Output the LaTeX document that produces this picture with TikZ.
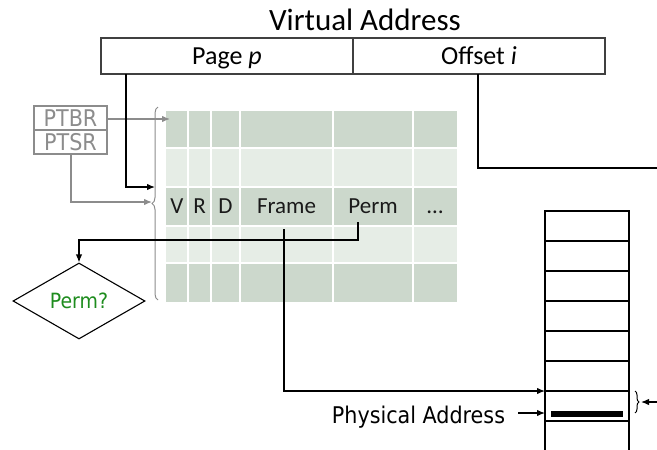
\documentclass[tikz,border=0pt]{standalone}
\usepackage{fontspec}
\setmainfont{Carlito}
\newfontfamily\tahfont{DejaVu Sans Condensed}
\usetikzlibrary{arrows.meta,shapes.geometric,decorations.pathreplacing}
\definecolor{rowdark}{HTML}{CCD8CC}
\definecolor{rowlight}{HTML}{E6EDE6}
\definecolor{regtext}{HTML}{8C8C8C}
\definecolor{permgreen}{RGB}{30,140,30}
\definecolor{inkdark}{HTML}{1A1A1A}
\begin{document}
\begin{tikzpicture}[x=1pt,y=-1pt,
  fieldbox/.style={draw=black!75, line width=1.4pt, minimum width=252pt,
    minimum height=36pt, inner sep=0pt, text height=17pt, text depth=0pt,
    font=\fontsize{26}{30}\selectfont},
  regbox/.style={draw=regtext, line width=1.1pt, minimum width=73pt,
    minimum height=24pt, inner sep=0pt, text=regtext, text height=17pt,
    text depth=0pt, font=\tahfont\fontsize{23}{26}\selectfont},
  cellfont/.style={anchor=base, inner sep=0pt, text=inkdark,
    font=\fontsize{23}{27}\selectfont},
  conn/.style={line width=1.3pt, black},
  arr/.style={conn, -{Latex[length=8pt,width=6.5pt]}},
  grayarr/.style={line width=1.3pt, regtext, -{Latex[length=8pt,width=6.5pt]}},
  memline/.style={line width=1.2pt, black},
  gridline/.style={white, line width=1.8pt}]
\useasboundingbox (0,0) rectangle (657,450);

% virtual address fields
\node[anchor=base, inner sep=0pt, font=\fontsize{31}{36}\selectfont] (title) at (365,30) {Virtual Address};
\node[fieldbox] (page) at (227,56) {Page \textit{p}};
\node[fieldbox] (offset) at (479,56) {Offset \textit{i}};

% page table base / size registers
\node[regbox] (ptbr) at (70.5,118) {PTBR};
\node[regbox] (ptsr) at (70.5,142) {PTSR};

% page table
\fill[rowdark]  (166,111) rectangle (457,148);
\fill[rowlight] (166,148) rectangle (457,187);
\fill[rowdark]  (166,187) rectangle (457,226);
\fill[rowlight] (166,226) rectangle (457,263);
\fill[rowdark]  (166,263) rectangle (457,302);
\foreach \x in {188,211,240,333,413} \draw[gridline] (\x,111) -- (\x,302);
\foreach \y in {148,187,226,263} \draw[gridline] (166,\y) -- (457,\y);

\node[cellfont] (fv) at (177,213) {V};
\node[cellfont] (fr) at (199.5,213) {R};
\node[cellfont] (fd) at (225.5,213) {D};
\node[cellfont] (fframe) at (286.5,213) {Frame};
\node[cellfont] (fperm) at (373,213) {Perm};
\node[cellfont] (fmore) at (435,213) {…};

% brace spanning the table
\draw[regtext, line width=1pt, decorate, decoration={brace, amplitude=6pt}]
  (158,300) -- (158,107);

% permission check
\node[draw, line width=1.1pt, diamond, aspect=1.74, minimum width=132pt,
  minimum height=76pt, inner sep=0pt, text=permgreen,
  font=\tahfont\fontsize{21}{24}\selectfont] (check) at (79,301) {Perm?};

% physical memory frames
\draw[memline] (545,452) -- (545,211) -- (629,211) -- (629,452);
\foreach \y in {241,271,301,331,361,391,421} \draw[memline] (545,\y) -- (629,\y);
\fill[black] (551,411) rectangle (623,417);
\draw[line width=1pt, decorate, decoration={brace, amplitude=4pt}]
  (635,391) -- (635,413);

\node[anchor=base, inner sep=0pt, font=\tahfont\fontsize{23}{26}\selectfont] (phys) at (418.5,423.5) {Physical Address};

% anchor points for connectors
\coordinate (pagedown) at (126,74);
\coordinate (pageentry) at (155,187);
\coordinate (ptsrdown) at (71,154);
\coordinate (sizeentry) at (152,202);
\coordinate (baseentry) at (170,119);
\coordinate (permout) at (358,222);
\coordinate (frameout) at (284,229);
\coordinate (frameslot) at (545,391);
\coordinate (physslot) at (545,413);
\coordinate (physout) at (518,413);
\coordinate (offdown) at (478,74);
\coordinate (offright) at (658,168);
\coordinate (offin) at (658,402);
\coordinate (offtip) at (641,402);

% connectors
\draw[grayarr] (ptbr.east |- baseentry) -- (baseentry);
\draw[grayarr] (ptsrdown) |- (sizeentry);
\draw[arr] (pagedown) |- (pageentry);
\draw[arr] (permout) -- (permout |- 0,240) -| (check.north);
\draw[arr] (frameout) |- (frameslot);
\draw[conn] (offdown) |- (offright);
\draw[arr] (physout) -- (physslot);
\draw[arr] (offin) -- (offtip);
\end{tikzpicture}
\end{document}
